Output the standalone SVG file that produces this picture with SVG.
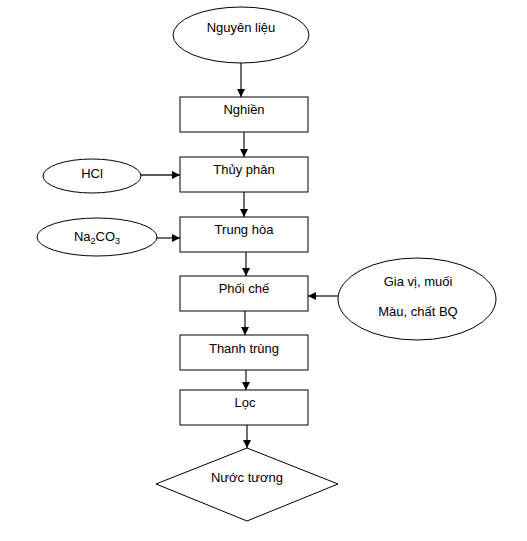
<svg xmlns="http://www.w3.org/2000/svg" width="527" height="541" viewBox="0 0 527 541">
<style>
.s{fill:#fff;stroke:#000;stroke-width:1}
.t{font-family:"Liberation Sans",Arial,sans-serif;font-size:13px;fill:#000;text-anchor:middle}
.c{stroke:#222;stroke-width:1.3;fill:none;marker-end:url(#a)}
</style>
<defs>
<marker id="a" markerWidth="8" markerHeight="8" refX="8" refY="4" orient="auto" markerUnits="userSpaceOnUse">
<path d="M0,0 L8,4 L0,8 Z" fill="#000"/>
</marker>
</defs>
<rect width="527" height="541" fill="#fff"/>
<g id="connectors">
<line class="c" x1="241" y1="63" x2="241" y2="97"/>
<line class="c" x1="244" y1="132" x2="244" y2="157"/>
<line class="c" x1="141" y1="175" x2="180" y2="175"/>
<line class="c" x1="244" y1="192" x2="244" y2="217"/>
<line class="c" x1="157" y1="238" x2="180" y2="238"/>
<line class="c" x1="246" y1="252" x2="246" y2="276"/>
<line class="c" x1="338" y1="296" x2="308" y2="296"/>
<line class="c" x1="245" y1="311" x2="245" y2="335"/>
<line class="c" x1="246" y1="370" x2="246" y2="390"/>
<line class="c" x1="247" y1="425" x2="247" y2="448"/>
</g>
<g id="nguyen-lieu"><ellipse class="s" cx="241" cy="35" rx="68" ry="28"/><text class="t" x="241" y="32">Nguyên liệu</text></g>
<g id="nghien"><rect class="s" x="180" y="97" width="128" height="35"/><text class="t" x="244" y="114">Nghiền</text></g>
<g id="hcl"><ellipse class="s" cx="92" cy="176" rx="49" ry="17"/><text class="t" x="92" y="178">HCl</text></g>
<g id="thuy-phan"><rect class="s" x="180" y="157" width="128" height="35"/><text class="t" x="244" y="174">Thủy phân</text></g>
<g id="na2co3"><ellipse class="s" cx="97" cy="237" rx="60" ry="19"/><text class="t" x="97" y="241">Na<tspan font-size="9" dy="3">2</tspan><tspan dy="-3">CO</tspan><tspan font-size="9" dy="3">3</tspan></text></g>
<g id="trung-hoa"><rect class="s" x="180" y="217" width="128" height="35"/><text class="t" x="244" y="234">Trung hòa</text></g>
<g id="phoi-che"><rect class="s" x="180" y="276" width="128" height="35"/><text class="t" x="244" y="293">Phối chế</text></g>
<g id="gia-vi"><ellipse class="s" cx="417" cy="299" rx="79" ry="41"/><text class="t" x="418" y="286">Gia vị, muối</text><text class="t" x="418" y="316">Màu, chất BQ</text></g>
<g id="thanh-trung"><rect class="s" x="180" y="335" width="128" height="35"/><text class="t" x="244" y="353">Thanh  trùng</text></g>
<g id="loc"><rect class="s" x="180" y="390" width="128" height="35"/><text class="t" x="245" y="407">Lọc</text></g>
<g id="nuoc-tuong"><polygon class="s" points="247,448 338,484 247,521 156,484"/><text class="t" x="247" y="482">Nước tương</text></g>
</svg>
